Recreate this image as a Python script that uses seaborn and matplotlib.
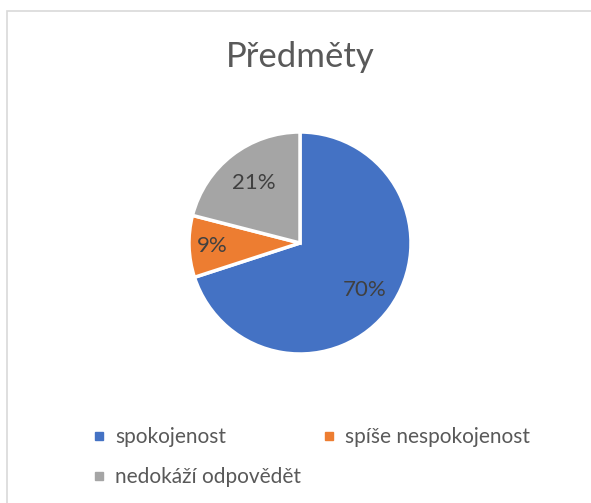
import matplotlib
matplotlib.use("Agg")
import matplotlib.pyplot as plt
from matplotlib.lines import Line2D
from matplotlib.patches import Rectangle
import numpy as np
import seaborn as sns

# data
categories = ["spokojenost", "spíše nespokojenost", "nedokáží odpovědět"]
values = [70, 9, 21]
pct_labels = ["70%", "9%", "21%"]
colors = ["#4472C4", "#ED7D31", "#A5A5A5"]
title = "Předměty"

sns.set_theme(style="white")
plt.rcParams["font.family"] = ["Lato", "DejaVu Sans"]

W, H = 591, 503
fig = plt.figure(figsize=(W / 100, H / 100), dpi=100)
fig.patch.set_facecolor("white")

# chart border (Excel style)
fig.add_artist(Rectangle((7 / W, -0.1), 1.2, 1.1 - 11 / H, transform=fig.transFigure,
                         fill=False, edgecolor="#D9D9D9", linewidth=1.2))

# pie axes: centre (300, 243) px, radius 111 px
cx, cy, r = 300, 243, 111
ax = fig.add_axes([(cx - r) / W, 1 - (cy + r) / H, 2 * r / W, 2 * r / H])
wedges, _ = ax.pie(values, colors=colors, startangle=90, counterclock=False,
                   wedgeprops=dict(edgecolor="white", linewidth=2.5))
ax.set_xlim(-1, 1)
ax.set_ylim(-1, 1)
ax.set_aspect("equal")
ax.axis("off")

# percentage labels
dists = [0.72, 0.79, 0.68]
for w, lab, d in zip(wedges, pct_labels, dists):
    ang = np.deg2rad((w.theta1 + w.theta2) / 2)
    ax.text(d * np.cos(ang), d * np.sin(ang), lab, ha="center", va="center",
            fontsize=16, color="#404040")

fig.text(cx / W, 1 - 57 / H, title, ha="center", va="center",
         fontsize=25, color="#595959")

# legend, filled row by row
handles = [Line2D([], [], marker="s", linestyle="", markersize=5.5,
                  color=c, label=l) for c, l in zip(colors, categories)]
order = [0, 2, 1]
fig.legend([handles[i] for i in order], [categories[i] for i in order],
           ncol=2, loc="upper left", bbox_to_anchor=(80 / W, 1 - 417 / H),
           frameon=False, borderpad=0, fontsize=15, labelcolor="#595959",
           handlelength=0.8, handletextpad=0.4, columnspacing=0.9,
           labelspacing=0.95)

fig.savefig("out.png", dpi=100, facecolor="white")
